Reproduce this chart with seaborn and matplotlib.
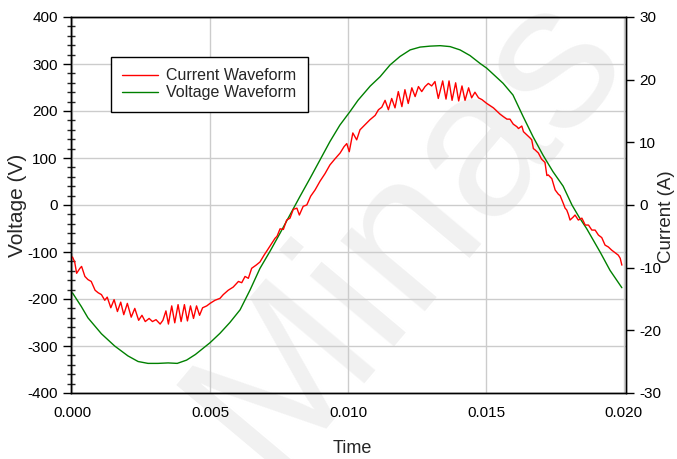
import numpy as np
import pandas as pd
import matplotlib
matplotlib.use("Agg")
import matplotlib.pyplot as plt
from matplotlib.ticker import MultipleLocator, FormatStrFormatter
from matplotlib.lines import Line2D
import seaborn as sns

# Sampled voltage waveform: time in milliseconds, voltage in volts
volt_time_ms = [0.00, 0.32, 0.56, 1.05, 1.53, 2.01, 2.38, 2.74, 3.10, 3.47, 3.80,
                4.14, 4.46, 4.99, 5.35, 5.71, 6.08, 6.44, 6.80, 7.17, 7.53, 7.89,
                8.25, 8.62, 8.98, 9.34, 9.70, 10.07, 10.36, 10.80, 11.16, 11.52,
                11.88, 12.25, 12.61, 12.97, 13.34, 13.70, 14.06, 14.42, 14.79,
                15.03, 15.62, 15.98, 16.35, 16.71, 17.07, 17.43, 17.80, 18.12,
                18.37, 18.65, 19.14, 19.50, 19.93]
volt_values = [-187, -216, -240, -274, -300, -321, -333, -337, -337, -336, -337,
               -330, -318, -293, -273, -250, -223, -181, -135, -98, -60, -21,
               18, 57, 96, 135, 170, 199, 223, 253, 273, 298,
               316, 330, 336, 338, 339, 337, 330, 318, 301,
               291, 259, 234, 188, 145, 106, 71, 40, 0,
               -25, -50, -100, -139, -176]

# Sampled current waveform: time in milliseconds, current in amperes
curr_time_ms = [0.00, 0.08, 0.15, 0.27, 0.33, 0.45, 0.56, 0.68, 0.82, 0.93,
                1.05, 1.17, 1.26, 1.39, 1.51, 1.63, 1.75, 1.86, 1.99, 2.13,
                2.26, 2.40, 2.52, 2.64, 2.78, 2.90, 3.03, 3.18, 3.28, 3.39,
                3.48, 3.60, 3.71, 3.83, 3.94, 4.06, 4.17, 4.28, 4.39, 4.50,
                4.61, 4.72, 4.87, 4.99, 5.17, 5.35, 5.47, 5.65, 5.83, 6.02,
                6.14, 6.26, 6.38, 6.50, 6.66, 6.80, 6.95, 7.07, 7.23, 7.35,
                7.42, 7.53, 7.65, 7.77, 7.89, 8.01, 8.14, 8.23, 8.37, 8.50,
                8.64, 8.80, 8.98, 9.16, 9.34, 9.53, 9.71, 9.85, 9.95, 10.04,
                10.17, 10.31, 10.43, 10.61, 10.79, 10.98, 11.10, 11.22, 11.34, 11.46,
                11.58, 11.70, 11.82, 11.95, 12.06, 12.18, 12.31, 12.43, 12.55, 12.67,
                12.79, 12.91, 13.03, 13.15, 13.27, 13.43, 13.55, 13.66, 13.77, 13.90,
                14.01, 14.13, 14.24, 14.37, 14.48, 14.60, 14.73, 14.86, 15.03, 15.27,
                15.51, 15.63, 15.76, 15.87, 15.99, 16.12, 16.18, 16.30, 16.36, 16.48,
                16.60, 16.66, 16.72, 16.78, 16.90, 17.02, 17.14, 17.21, 17.26, 17.39,
                17.51, 17.63, 17.69, 17.81, 17.87, 17.93, 17.99, 18.05, 18.17, 18.23,
                18.35, 18.48, 18.60, 18.72, 18.84, 18.96, 19.08, 19.20, 19.32, 19.44,
                19.56, 19.68, 19.80, 19.87, 19.93]
curr_values = [-8.3, -9.1, -10.9, -10.1, -9.8, -11.4, -11.9, -12.2, -13.6, -14.0,
               -14.3, -15.2, -14.7, -16.4, -15.1, -17.0, -15.5, -17.5, -15.7, -17.9,
               -16.5, -18.4, -17.6, -18.6, -18.1, -18.6, -18.3, -19.0, -18.4, -16.9,
               -19.0, -16.1, -18.8, -15.9, -18.6, -15.9, -18.5, -16.1, -18.1, -16.1,
               -17.6, -16.4, -16.1, -15.7, -15.2, -14.9, -14.3, -13.6, -13.1, -12.2,
               -12.4, -11.4, -11.7, -10.1, -9.6, -9.1, -8.0, -7.2, -6.1, -5.3,
               -5.0, -3.8, -3.9, -2.4, -2.1, -0.7, -0.5, -1.6, -0.2, 0.0,
               1.4, 2.4, 3.8, 5.0, 6.4, 7.4, 8.3, 9.3, 9.8, 8.5,
               11.5, 10.4, 12.0, 12.8, 13.6, 14.3, 15.2, 15.6, 16.7, 15.2,
               17.0, 15.5, 18.1, 15.7, 18.4, 16.2, 18.7, 17.3, 18.9, 18.1,
               18.9, 19.4, 19.0, 19.7, 17.0, 19.8, 16.9, 19.8, 16.7, 19.5,
               16.6, 19.0, 16.7, 18.7, 17.1, 18.0, 17.1, 16.8, 16.2, 15.5,
               14.5, 14.1, 13.7, 13.7, 12.9, 12.5, 12.2, 12.6, 11.7, 11.2,
               10.7, 10.4, 9.0, 8.8, 8.3, 7.3, 6.8, 4.7, 4.8, 4.2,
               2.4, 1.7, 1.5, 0.2, -0.5, -0.8, -1.5, -2.4, -1.9, -1.6,
               -2.4, -2.1, -3.2, -3.2, -4.0, -4.0, -4.8, -5.2, -6.4, -6.7,
               -7.2, -7.6, -8.0, -8.5, -9.6]

time_ticks = [0.000, 0.005, 0.010, 0.015, 0.020]
volt_ticks = [-400, -300, -200, -100, 0, 100, 200, 300, 400]
curr_ticks = [-30, -20, -10, 0, 10, 20, 30]

volt_df = pd.DataFrame({"Time": np.array(volt_time_ms) / 1000.0, "Voltage": volt_values})
curr_df = pd.DataFrame({"Time": np.array(curr_time_ms) / 1000.0, "Current": curr_values})

sns.set_style("white")
plt.rcParams["font.family"] = ["Liberation Sans", "DejaVu Sans"]
plt.rcParams["axes.unicode_minus"] = False

RED = "#ff0000"
GREEN = "#008000"

fig = plt.figure(figsize=(6.77, 4.59), dpi=100)
fig.patch.set_facecolor("white")
ax = fig.add_axes([71 / 677, 1 - 393 / 459, 555 / 677, 376 / 459])
ax.patch.set_alpha(0)

# faint diagonal watermark behind the plot
fig.text(0.60, 0.50, "Minas", fontsize=150, rotation=50, color="#f1f1f1",
         ha="center", va="center", zorder=-5, family="Liberation Sans")

sns.lineplot(data=volt_df, x="Time", y="Voltage", ax=ax, color=GREEN,
             linewidth=1.0, estimator=None, sort=False)
ax.set_xlim(-0.000054, 0.02008)
ax.set_ylim(-400, 400)
ax.set_xticks(time_ticks)
ax.set_yticks(volt_ticks)
ax.xaxis.set_major_formatter(FormatStrFormatter("%.3f"))
ax.xaxis.set_minor_locator(MultipleLocator(0.001))
ax.yaxis.set_minor_locator(MultipleLocator(20))
ax.grid(True, which="major", color="#cccccc", linewidth=1.0)
ax.set_axisbelow(True)
ax.tick_params(axis="both", which="major", direction="out", length=6, width=1,
               labelsize=11, colors="black")
ax.tick_params(axis="both", which="minor", direction="inout", length=6, width=1)
ax.set_xlabel("Time", fontsize=13)
ax.set_ylabel("Voltage (V)", fontsize=15)
ax.xaxis.set_label_coords(0.507, -0.125)
ax.yaxis.set_label_coords(-0.08, 0.5)
for s in ax.spines.values():
    s.set_color("black")
    s.set_linewidth(1.0)

ax2 = ax.twinx()
ax2.patch.set_alpha(0)
sns.lineplot(data=curr_df, x="Time", y="Current", ax=ax2, color=RED,
             linewidth=1.0, estimator=None, sort=False)
ax2.set_ylim(-30, 30)
ax2.set_yticks(curr_ticks)
ax2.tick_params(axis="y", which="major", direction="out", length=6, width=1,
                labelsize=11, colors="black")
ax2.set_ylabel("Current (A)", fontsize=13.5)
ax2.yaxis.set_label_coords(1.057, 0.47)
for s in ax2.spines.values():
    s.set_color("black")
    s.set_linewidth(1.0)

handles = [Line2D([], [], color=RED, linewidth=1.0),
           Line2D([], [], color=GREEN, linewidth=1.0)]
leg = ax2.legend(handles, ["Current Waveform", "Voltage Waveform"],
                 loc="upper left", bbox_to_anchor=(0.072, 0.894),
                 borderaxespad=0, fancybox=False, framealpha=1,
                 edgecolor="black", fontsize=11.5, handlelength=2.2,
                 labelspacing=0.12, borderpad=0.72, handletextpad=0.55)
leg.get_frame().set_linewidth(1.0)

fig.savefig("out.png", dpi=100)
